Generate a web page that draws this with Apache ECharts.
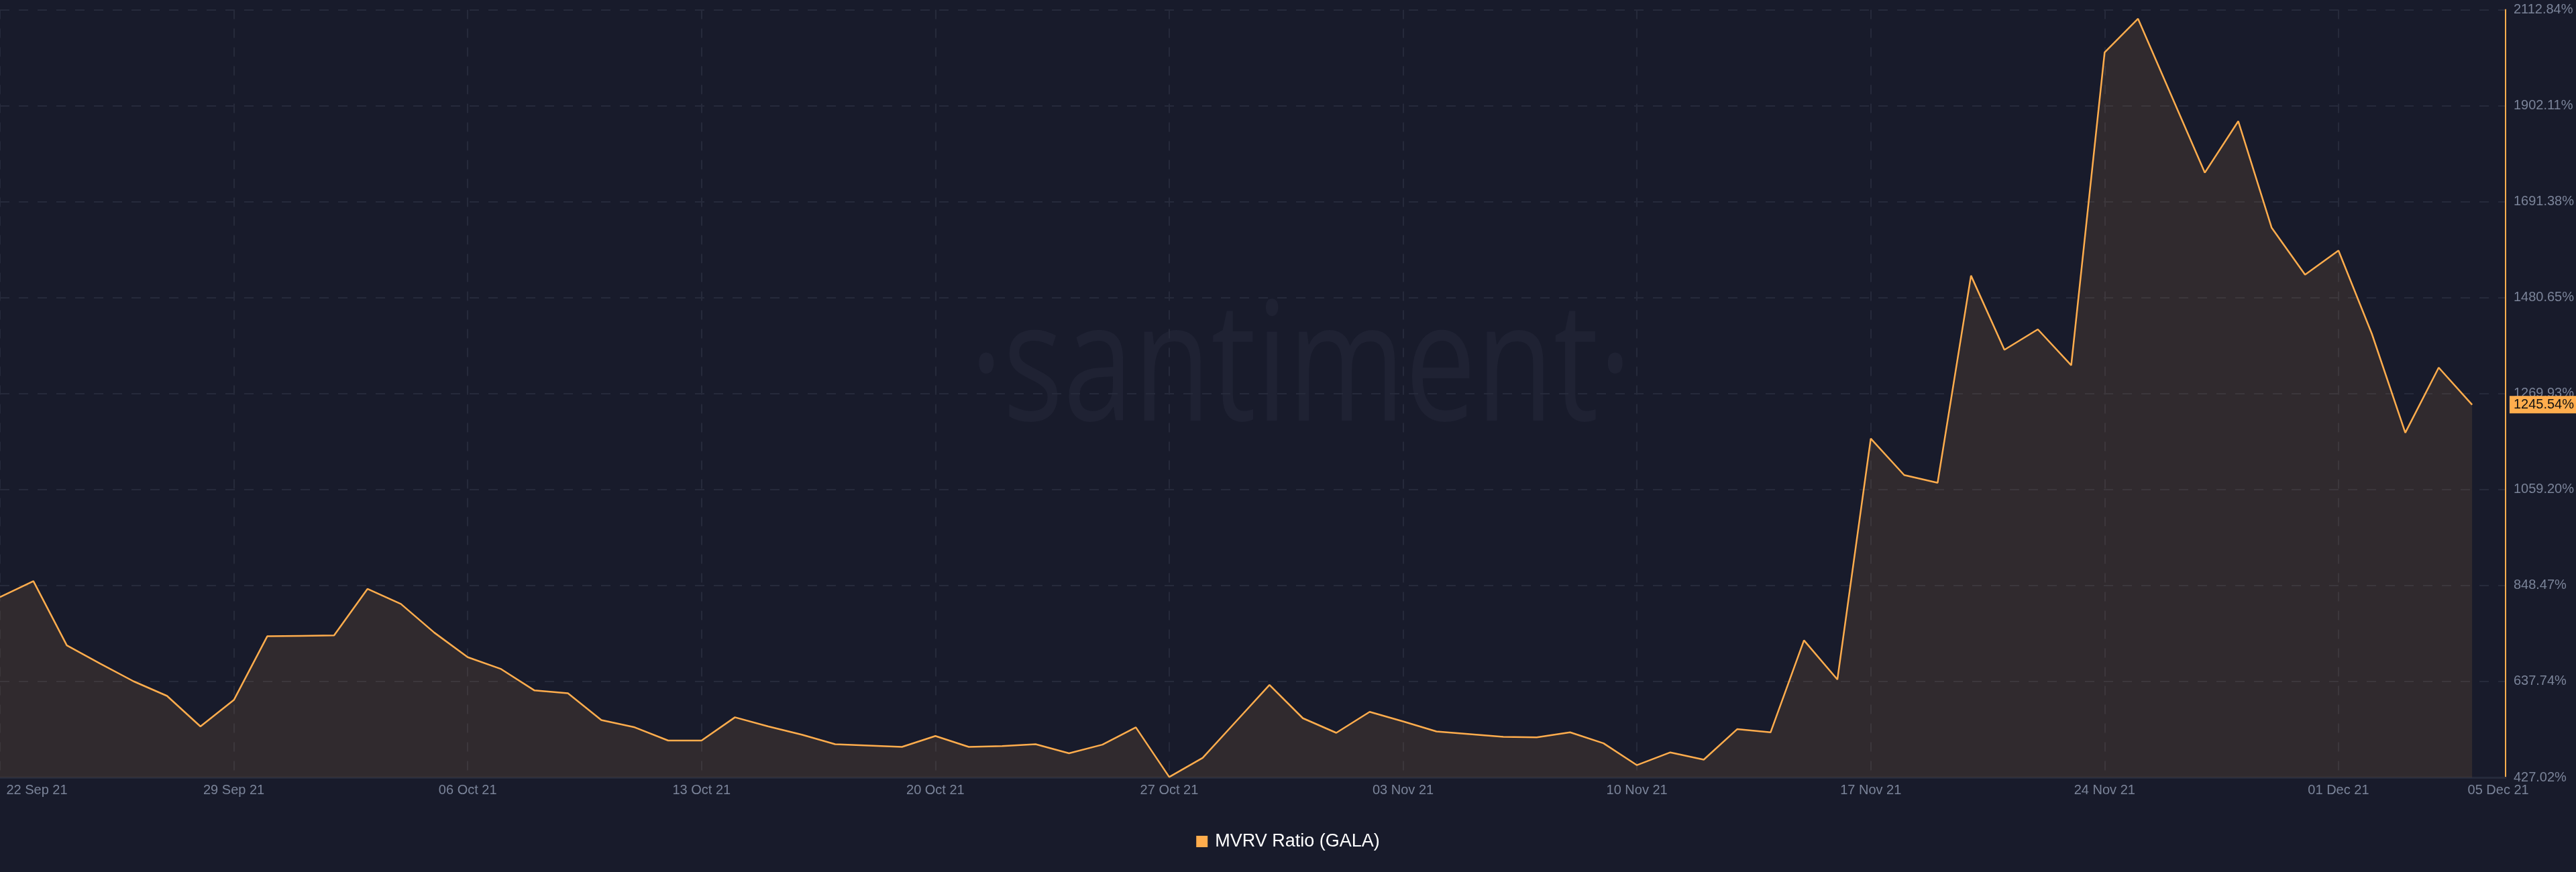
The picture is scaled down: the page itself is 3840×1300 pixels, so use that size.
<!DOCTYPE html>
<html>
<head>
<meta charset="utf-8">
<script src="https://cdn.jsdelivr.net/npm/echarts@6/dist/echarts.min.js"></script>
<style>
html,body{margin:0;padding:0;background:#181b2b;}
#chart{width:3840px;height:1300px;}
</style>
</head>
<body>
<div id="chart"></div>
<script>
// ---- data ----
const startDate = '2021-09-22';
const dayCount = 75;
const seriesName = 'MVRV Ratio (GALA)';
const mvrvValues = [
  823, 858, 717, 677, 638, 606, 539, 597, 737, 738,
  739, 841, 808, 745, 691, 665, 618, 612, 553, 537,
  508, 508, 559, 539, 521, 500, 497, 494, 518, 494,
  496, 500, 480, 499, 537, 428, 470, 550, 630, 557,
  525, 571, 550, 528, 522, 516, 515, 526, 502, 454,
  482, 466, 533, 526, 728, 642, 1171, 1091, 1074, 1529,
  1366, 1411, 1332, 2019, 2093, 1924, 1755, 1868, 1634, 1531,
  1584, 1401, 1184, 1327, 1245.54
];
const yTickLabels = ['427.02%','637.74%','848.47%','1059.20%','1269.93%','1480.65%','1691.38%','1902.11%','2112.84%'];
const lastValueLabel = '1245.54%';

// build category labels
const months = ['Jan','Feb','Mar','Apr','May','Jun','Jul','Aug','Sep','Oct','Nov','Dec'];
const categories = [];
(function(){
  const d0 = new Date(startDate + 'T00:00:00Z');
  for (let i = 0; i < dayCount; i++) {
    const d = new Date(d0.getTime() + i * 86400000);
    const dd = String(d.getUTCDate()).padStart(2,'0');
    categories.push(dd + ' ' + months[d.getUTCMonth()] + ' ' + String(d.getUTCFullYear()).slice(2));
  }
  categories.push(''); // trailing padding slot
})();

const yMin = parseFloat(yTickLabels[0]);
const yMax = parseFloat(yTickLabels[yTickLabels.length-1]);
const yInterval = (yMax - yMin) / (yTickLabels.length - 1);
const lastIndex = dayCount - 1;

const FONT = "'Liberation Sans', Arial, Helvetica, sans-serif";
const chart = echarts.init(document.getElementById('chart'), null, {renderer:'canvas'});
chart.setOption({
  backgroundColor: '#181b2b',
  animation: false,
  textStyle: {fontFamily: FONT},
  graphic: [{
    type: 'text',
    x: 1939, y: 556,
    scaleX: 0.76,
    z: -1,
    silent: true,
    style: {
      text: '·santiment·',
      x: 0, y: 0,
      align: 'center',
      verticalAlign: 'middle',
      font: "248px 'Open Sans', 'Noto Sans', sans-serif",
      fill: '#1f2233'
    }
  }],
  legend: {
    data: [seriesName],
    left: 'center',
    top: 1236,
    icon: 'rect',
    itemWidth: 17,
    itemHeight: 17,
    itemStyle: {color: '#ffad4d'},
    textStyle: {color: '#ffffff', fontSize: 27, fontFamily: FONT, padding: [0,0,0,6]}
  },
  grid: {left: 0, right: 100, top: 14.5, bottom: 141, containLabel: false},
  xAxis: {
    type: 'category',
    data: categories,
    boundaryGap: false,
    axisLine: {show: true, lineStyle: {color: '#252a3b', width: 3}},
    axisTick: {show: false},
    axisLabel: {
      color: '#7b8499',
      fontSize: 20,
      margin: 9,
      fontFamily: FONT,
      interval: function(i){ return i % 7 === 0 || i === lastIndex; },
      formatter: function(v, i){
        if (i === 0) return '{first|' + v + '}';
        if (i === lastIndex) return '{last|' + v + '}';
        return v;
      },
      rich: {
        first: {color:'#7b8499', fontSize:20, fontFamily:FONT, padding:[0,0,0,110]},
        last: {color:'#7b8499', fontSize:20, fontFamily:FONT, padding:[0,0,0,78]}
      }
    },
    splitLine: {
      show: true,
      interval: function(i){ return i % 7 === 0; },
      lineStyle: {color: '#262a3b', width: 2, type: [14,14]}
    }
  },
  yAxis: {
    type: 'value',
    position: 'right',
    min: yMin,
    max: yMax,
    interval: yInterval,
    axisLine: {show: true, lineStyle: {color: '#ffad4d', width: 2}},
    axisTick: {show: false},
    axisLabel: {
      color: '#7b8499',
      fontSize: 20,
      margin: 12,
      fontFamily: FONT,
      showMinLabel: true,
      showMaxLabel: true,
      formatter: function(v){
        const k = Math.round((v - yMin) / yInterval);
        return yTickLabels[k] || '';
      }
    },
    splitLine: {show: true, lineStyle: {color: '#262a3b', width: 2, type: [14,14]}}
  },
  series: [{
    name: seriesName,
    type: 'line',
    data: mvrvValues,
    showSymbol: false,
    symbol: 'none',
    lineStyle: {color: '#ffad4d', width: 2.5},
    itemStyle: {color: '#ffad4d'},
    areaStyle: {color: 'rgba(255,173,77,0.15)'},
    markLine: {
      silent: true,
      symbol: ['none','none'],
      lineStyle: {color: 'rgba(0,0,0,0)', width: 0, type: 'solid'},
      data: [{yAxis: mvrvValues[lastIndex]}],
      label: {
        show: true,
        position: 'end',
        distance: 6,
        formatter: lastValueLabel,
        color: '#111111',
        fontSize: 20,
        fontFamily: FONT,
        backgroundColor: '#ffad4d',
        padding: [4, 6, 2, 6]
      }
    }
  }]
});
</script>
</body>
</html>
